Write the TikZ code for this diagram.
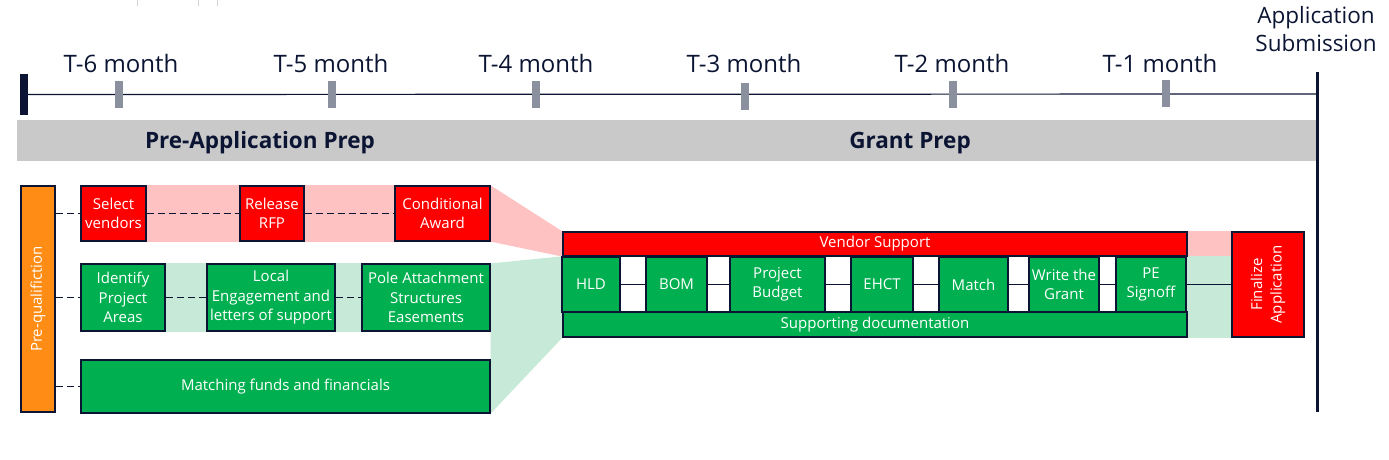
\documentclass[tikz,border=0pt]{standalone}
\usepackage{fontspec}
\setmainfont{Open Sans}
\usetikzlibrary{backgrounds}
\definecolor{navy}{HTML}{0B1533}
\definecolor{nred}{HTML}{FF0000}
\definecolor{ngreen}{HTML}{00B050}
\definecolor{npink}{HTML}{FFC2C2}
\definecolor{lgreen}{HTML}{C6EAD7}
\definecolor{band}{HTML}{C9C9C9}
\definecolor{tickgray}{HTML}{8A909E}
\definecolor{norange}{HTML}{FF8C14}
\begin{document}
\begin{tikzpicture}[x=1pt,y=-1pt,
  box/.style={draw=navy,line width=1.2pt,text=white,align=center,inner sep=0pt,font=\fontsize{15}{19.5}\selectfont},
  redbox/.style={box,fill=nred},
  greenbox/.style={box,fill=ngreen},
  month/.style={text=navy,font=\fontsize{24}{28}\selectfont},
  tick/.style={fill=tickgray,minimum width=8pt,minimum height=27pt,inner sep=0pt},
  dashline/.style={navy,line width=1pt,dash pattern=on 7pt off 4pt},
  link/.style={navy,line width=1.2pt}]
\useasboundingbox (0,0) rectangle (1389,460);

%stray marks at the top
\draw[gray!35,line width=1pt] (137,0)--(137,6);
\draw[gray!35,line width=1pt] (198,0)--(198,6);
\draw[gray!35,line width=1pt] (217,0)--(217,6);

%drawing time line
\node[fill=navy,minimum width=8pt,minimum height=41pt,inner sep=0pt] (start) at (24,94.5) {};
\coordinate (end) at (1317,94);
\coordinate (subtop) at (1317,72);
\coordinate (subbot) at (1317,412);
\draw[link] (start.east) -- (end);
\draw[navy,line width=3pt] (subtop) -- (subbot);
\node[month,font=\fontsize{22.5}{28}\selectfont,align=center] (sub) at (1316,29) {Application\\Submission};

%month ticks and labels
\node[tick] (t6) at (119,94.5) {};
\node[tick] (t5) at (332,94.5) {};
\node[tick] (t4) at (536,94.5) {};
\node[tick] (t3) at (745,96) {};
\node[tick] (t2) at (953,94.5) {};
\node[tick] (t1) at (1166,93.5) {};
\node[month] (l6) at (121,63) {T-6 month};
\node[month] (l5) at (331,63) {T-5 month};
\node[month] (l4) at (536,63) {T-4 month};
\node[month] (l3) at (744,63) {T-3 month};
\node[month] (l2) at (952,63) {T-2 month};
\node[month] (l1) at (1160,63) {T-1 month};

%gray band
\fill[band] (17,120) rectangle (1316,161);
\node[text=navy,font=\fontsize{22.5}{26}\bfseries] (pre) at (260,143) {Pre-Application Prep};
\node[text=navy,font=\fontsize{22.5}{26}\bfseries] (grant) at (910,143) {Grant Prep};

%pre-qualification
\node[box,fill=norange,rotate=90,minimum width=226pt,minimum height=34pt] (preq) at (38,299) {Pre-qualifiction};

%red row
\node[redbox,minimum width=65pt,minimum height=55pt] (sel) at (113.5,213.5) {Select\\vendors};
\node[redbox,minimum width=64pt,minimum height=55pt] (rfp) at (272,213.5) {Release\\RFP};
\node[redbox,minimum width=95pt,minimum height=55pt] (cond) at (442.5,213.5) {Conditional\\Award};

%green rows
\node[greenbox,minimum width=84pt,minimum height=67pt] (idp) at (123,297.5) {Identify\\Project\\Areas};
\node[greenbox,minimum width=128pt,minimum height=67pt] (loc) at (271,297.5) {Local\\Engagement and\\letters of support};
\node[greenbox,minimum width=128pt,minimum height=67pt] (pole) at (426,297.5) {Pole Attachment\\Structures\\Easements};
\node[greenbox,minimum width=409pt,minimum height=53pt] (mat) at (285.5,386.5) {Matching funds and financials};

%grant prep block
\node[redbox,minimum width=624pt,minimum height=24pt] (vend) at (875,244) {Vendor Support};
\node[greenbox,minimum width=58pt,minimum height=55pt] (hld) at (591,284.5) {HLD};
\node[greenbox,minimum width=61pt,minimum height=55pt] (bom) at (676.5,284.5) {BOM};
\node[greenbox,minimum width=95pt,minimum height=55pt] (pbud) at (777.5,284.5) {Project\\Budget};
\node[greenbox,minimum width=62pt,minimum height=55pt] (ehct) at (882,284.5) {EHCT};
\node[greenbox,minimum width=69pt,minimum height=55pt] (match) at (973.5,284.5) {Match};
\node[greenbox,minimum width=70pt,minimum height=55pt] (wtg) at (1064,284.5) {Write the\\Grant};
\node[greenbox,minimum width=70pt,minimum height=55pt] (pe) at (1151,284.5) {PE\\Signoff};
\node[greenbox,minimum width=624pt,minimum height=25pt] (supp) at (875,324.5) {Supporting documentation};
\node[redbox,rotate=90,minimum width=105pt,minimum height=72pt] (fin) at (1268,284.5) {Finalize\\Application};

%connecting them
\draw[dashline] (preq.south |- sel.west) -- (sel.west);
\draw[dashline] (sel.east) -- (rfp.west);
\draw[dashline] (rfp.east) -- (cond.west);
\draw[dashline] (preq.south |- idp.west) -- (idp.west);
\draw[dashline] (idp.east) -- (loc.west);
\draw[dashline] (loc.east) -- (pole.west);
\draw[dashline] (preq.south |- mat.west) -- (mat.west);
\foreach \a/\b in {hld/bom,bom/pbud,pbud/ehct,ehct/match,match/wtg,wtg/pe}
  \draw[link] (\a.east) -- (\b.west);
\draw[link] (pe.east) -- (fin.north);

%shaded bands
\begin{pgfonlayer}{background}
\fill[npink] (sel.north east) rectangle (cond.south east);
\fill[npink] (cond.north east) -- (vend.north west) -- (vend.south west) -- (cond.south east) -- cycle;
\fill[lgreen] (idp.north east) rectangle (pole.south east);
\fill[lgreen] (pole.north east) -- (hld.north west) -- (supp.south west) -- (mat.south east) -- cycle;
\fill[npink] (vend.north east) rectangle (vend.south east -| fin.north);
\fill[lgreen] (pe.north east) rectangle (supp.south east -| fin.north);
\end{pgfonlayer}
\end{tikzpicture}
\end{document}
